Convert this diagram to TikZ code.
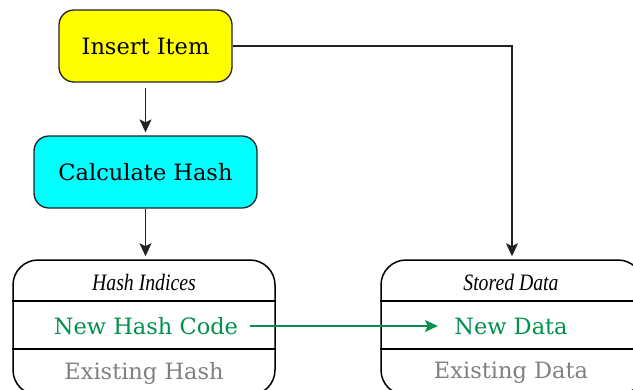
\documentclass[tikz,border=0pt]{standalone}
\usepackage{fontspec}
\setmainfont{DejaVu Serif}
\newfontfamily\hdrfont{Liberation Serif}[FakeStretch=0.84]
\usetikzlibrary{arrows.meta}
\definecolor{ngreen}{RGB}{0,145,75}
\definecolor{egray}{RGB}{128,128,128}
\definecolor{arrowc}{RGB}{34,34,34}
\definecolor{ccyan}{RGB}{0,255,255}
\definecolor{cyell}{RGB}{255,255,0}
\tikzset{
  procbox/.style={draw=arrowc, line width=1.3pt, rounded corners=15pt, minimum height=72pt, font=\fontsize{22.5}{26}\selectfont},
  tablebox/.style={draw=black, line width=1.5pt, rounded corners=25pt, minimum width=262pt, minimum height=135pt},
  hdr/.style={font=\hdrfont\itshape\fontsize{23.5}{26}\selectfont},
  cell/.style={font=\fontsize{22.5}{26}\selectfont},
  conn/.style={draw=arrowc, line width=1.3pt, -{Stealth[length=13pt,width=12pt,inset=3pt]}},
}
\begin{document}
\begin{tikzpicture}[x=1pt,y=-1pt]
\useasboundingbox (0,0) rectangle (633,389);
\clip (0,0) rectangle (633,389);
\node[procbox, fill=cyell, minimum width=173pt] (ii) at (145.5,46) {Insert Item};
\node[procbox, fill=ccyan, minimum width=223pt] (ch) at (145.5,172) {Calculate Hash};
\node[tablebox] (hi) at (144,327.5) {};
\node[tablebox] (sd) at (512,327.5) {};
\draw[line width=1.5pt] (hi.west |- 0,301) -- (hi.east |- 0,301);
\draw[line width=1.5pt] (hi.west |- 0,349) -- (hi.east |- 0,349);
\draw[line width=1.5pt] (sd.west |- 0,301) -- (sd.east |- 0,301);
\draw[line width=1.5pt] (sd.west |- 0,349) -- (sd.east |- 0,349);
\node[hdr] (hit) at (144,282) {Hash Indices};
\node[cell, text=ngreen] (nhc) at (146,326) {New Hash Code};
\node[cell, text=egray] (eh) at (144,373) {Existing Hash};
\node[hdr] (sdt) at (511,282) {Stored Data};
\node[cell, text=ngreen] (nd) at (511,326) {New Data};
\node[cell, text=egray] (ed) at (511,373) {Existing Data};
\draw[conn, shorten <=5pt, shorten >=3pt] (ii.south) -- (ch.north);
\draw[conn, shorten >=3pt] (ch.south) -- (ch.south |- hi.north);
\draw[conn, shorten >=3pt] (ii.east) -| (sd.north);
\draw[conn, draw=ngreen, fill=ngreen, shorten <=8pt, shorten >=13pt] (nhc.east) -- (nd.west);
\end{tikzpicture}
\end{document}
